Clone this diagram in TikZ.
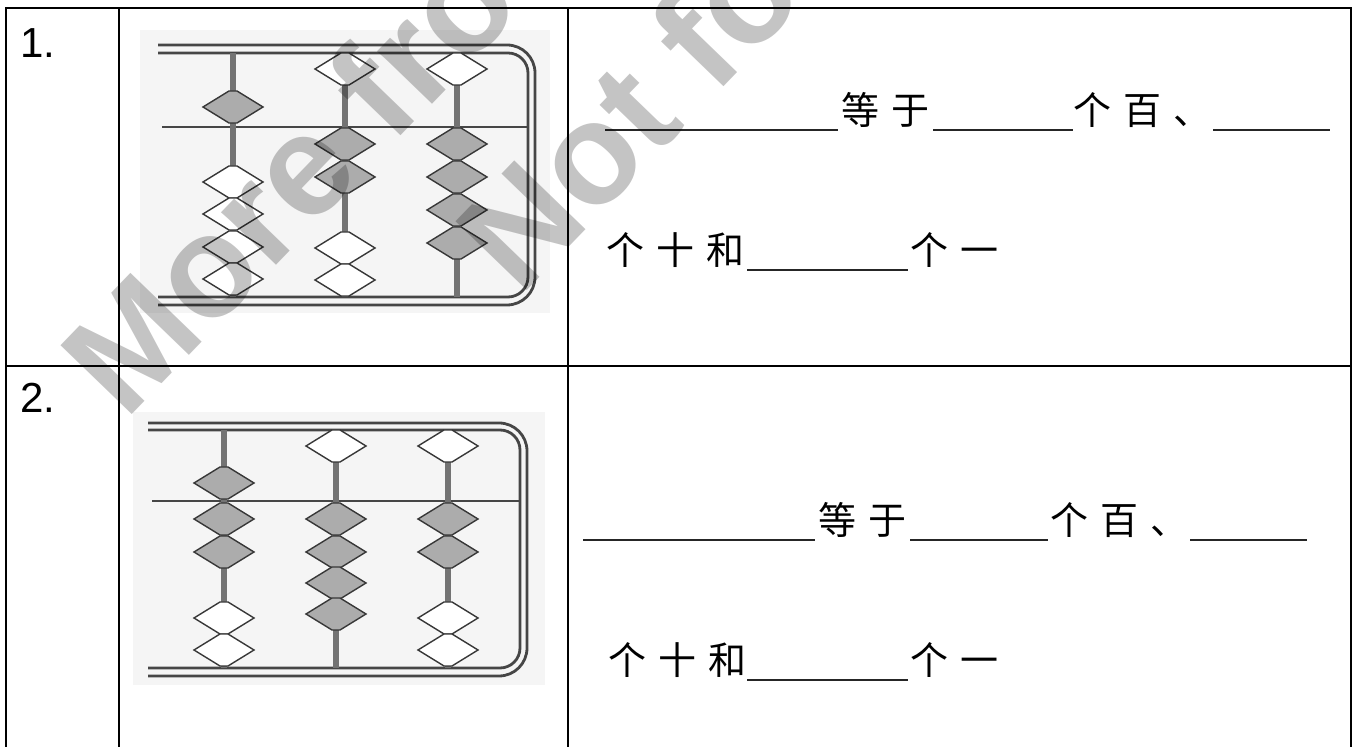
\documentclass[tikz,border=0pt]{standalone}
\usepackage{fontspec}
\setmainfont{Liberation Sans}
\newfontfamily\zhfont[LetterSpace=31.6]{Noto Sans CJK SC}
\usepackage{tikz}
\definecolor{railgray}{RGB}{70,70,70}
\definecolor{rodgray}{RGB}{115,115,115}
\definecolor{beadgray}{RGB}{172,172,172}
\definecolor{beadline}{RGB}{55,55,55}
\definecolor{papergray}{RGB}{245,245,245}

\tikzset{
  grid line/.style={line width=1.3pt, black},
  rail/.style={line width=1.4pt, railgray},
  rod/.style={line width=2.6pt, rodgray},
  blank/.style={line width=1.2pt, black!85},
  zhtext/.style={anchor=base west, inner sep=0pt, font=\zhfont\fontsize{19pt}{19pt}\selectfont},
  numlabel/.style={anchor=base west, inner sep=0pt, font=\fontsize{21pt}{21pt}\selectfont},
  watermark/.style={anchor=base west, inner sep=0pt, rotate=46, text=black, text opacity=0.23,
    font=\bfseries\fontsize{72pt}{72pt}\selectfont},
}

\begin{document}
\begin{tikzpicture}[x=0.5pt, y=-0.5pt]
  \useasboundingbox (0,0) rectangle (1360,747);
  \fill[white] (0,0) rectangle (1360,747);

  % Scanned paper behind the two abaci
  \fill[papergray] (140,30) rectangle (550,313);
  \fill[papergray] (133,412) rectangle (545,685);

  % Abacus 1: frame, bar and rods
  \draw[rail, rounded corners=14pt] (158,45) -- (535,45) -- (535,305) -- (158,305);
  \draw[rail, rounded corners=10pt] (158,53) -- (528,53) -- (528,297) -- (158,297);
  \draw[rail] (162,127) -- (528,127);
  \foreach \x in {233,345,457} {
    \draw[rod] (\x,53) -- (\x,297);
  }
  % Abacus 1 beads
  \foreach \x/\y/\c in {233/107/beadgray, 233/182/white, 233/214/white, 233/247/white, 233/279/white,
                        345/69/white, 345/144/beadgray, 345/177/beadgray, 345/248/white, 345/280/white,
                        457/69/white, 457/144/beadgray, 457/177/beadgray, 457/210/beadgray, 457/243/beadgray} {
    \filldraw[fill=\c, draw=beadline, line width=0.7pt]
      (\x-30,\y) -- (\x-4,\y-16) -- (\x+4,\y-16) -- (\x+30,\y) -- (\x+4,\y+16) -- (\x-4,\y+16) -- cycle;
  }

  % Abacus 2: frame, bar and rods
  \draw[rail, rounded corners=14pt] (148,423) -- (527,423) -- (527,676) -- (148,676);
  \draw[rail, rounded corners=10pt] (148,430) -- (520,430) -- (520,668) -- (148,668);
  \draw[rail] (152,501) -- (520,501);
  \foreach \x in {224,336,448} {
    \draw[rod] (\x,430) -- (\x,668);
  }
  % Abacus 2 beads
  \foreach \x/\y/\c in {224/483/beadgray, 224/519/beadgray, 224/552/beadgray, 224/618/white, 224/650/white,
                        336/446/white, 336/519/beadgray, 336/552/beadgray, 336/583/beadgray, 336/614/beadgray,
                        448/446/white, 448/519/beadgray, 448/552/beadgray, 448/618/white, 448/650/white} {
    \filldraw[fill=\c, draw=beadline, line width=0.7pt]
      (\x-30,\y) -- (\x-4,\y-16) -- (\x+4,\y-16) -- (\x+30,\y) -- (\x+4,\y+16) -- (\x-4,\y+16) -- cycle;
  }

  % Table
  \draw[grid line] (6,747) -- (6,8) -- (1351,8) -- (1351,747);
  \draw[grid line] (6,366) -- (1351,366);
  \draw[grid line] (119,8) -- (119,747);
  \draw[grid line] (568,8) -- (568,747);

  % Question numbers
  \node[numlabel] (num1) at (20,58) {1.};
  \node[numlabel] (num2) at (20,413) {2.};

  % Question 1 text
  \draw[blank] (605,130) -- (838,130);
  \node[zhtext] (eq1) at (841,125) {等于};
  \draw[blank] (933,130) -- (1073,130);
  \node[zhtext] (hund1) at (1073,125) {个百、};
  \draw[blank] (1213,130) -- (1330,130);
  \node[zhtext] (tens1) at (606,265) {个十和};
  \draw[blank] (747,270) -- (908,270);
  \node[zhtext] (ones1) at (910,265) {个一};

  % Question 2 text
  \draw[blank] (583,540) -- (815,540);
  \node[zhtext] (eq2) at (818,535) {等于};
  \draw[blank] (910,540) -- (1048,540);
  \node[zhtext] (hund2) at (1050,535) {个百、};
  \draw[blank] (1190,540) -- (1307,540);
  \node[zhtext] (tens2) at (608,675) {个十和};
  \draw[blank] (747,680) -- (908,680);
  \node[zhtext] (ones2) at (910,675) {个一};

  % Watermark
  \node[watermark] (wmore) at (125,422) {More fro};
  \node[watermark] (wnot) at (520,298) {Not fo};
\end{tikzpicture}
\end{document}
